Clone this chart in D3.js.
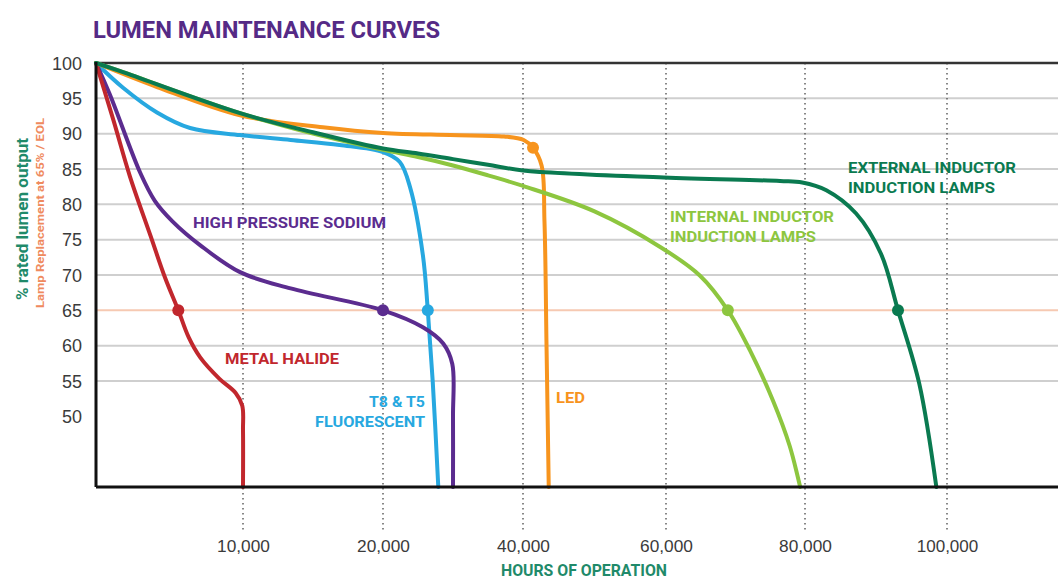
<!DOCTYPE html>
<html>
<head>
<meta charset="utf-8">
<script src="https://cdn.jsdelivr.net/npm/d3@7/dist/d3.min.js"></script>
<style>
  body { margin: 0; background: #fff; }
  svg { display: block; font-family: 'Liberation Sans Narrow', 'Roboto', 'Liberation Sans', sans-serif; font-weight: bold; }
  .y-axis text, .x-axis text { fill: #3b3b3b; font-weight: normal; }
  .y-axis text { font-size: 19px; }
  .x-axis text { font-size: 17px; }
  .curve { fill: none; stroke-width: 4; stroke-linecap: round; stroke-linejoin: round; }
  .series-label { font-size: 15px; }
</style>
</head>
<body>
<svg id="chart"></svg>
<script>
// x axis: hours of operation (tick spacing on the original is not linear)
const hourTicks = [0, 10000, 20000, 40000, 60000, 80000, 100000];
const hourLabels = ['', '10,000', '20,000', '40,000', '60,000', '80,000', '100,000'];
const percentTicks = [100, 95, 90, 85, 80, 75, 70, 65, 60, 55, 50];
const gridTicks = [95, 90, 85, 80, 75, 70, 65, 60, 55];
const replacementLevel = 65;

// [hours, % rated lumen output]
const metalHalide = [[0, 100], [1200, 91.8], [2300, 84], [3700, 75.6], [4700, 69.6], [5600, 65], [6300, 61.2],
  [7100, 58.3], [8400, 55.3], [9500, 53.3], [9950, 51.5], [10000, 48], [10000, 40]];
const highPressureSodium = [[0, 100], [950, 95.5], [3000, 84.5], [4000, 80.5], [5200, 77.6], [7100, 74.2],
  [9800, 70.4], [13400, 68.1], [20000, 65], [25700, 62.6], [28600, 60.3], [29900, 57.4], [30000, 50], [30000, 40]];
const fluorescent = [[0, 100], [1840, 96.5], [4150, 93], [6400, 90.8], [9800, 89.8], [13400, 89.1], [16900, 88.4],
  [20000, 87.4], [22400, 86], [23900, 82.3], [25700, 72.8], [26400, 65], [27100, 55], [27900, 40]];
const led = [[0, 100], [4150, 96.6], [9800, 92.6], [15700, 90.9], [20000, 90.1], [29600, 89.8], [37300, 89.6],
  [40100, 89.1], [41400, 88], [42600, 85.5], [43000, 77.7], [43300, 59.3], [43600, 40]];
const internalInductor = [[0, 100], [1840, 98.7], [9800, 92.9], [15000, 90], [20000, 87.7], [25000, 86.7],
  [30000, 85.5], [35000, 84.1], [40000, 82.6], [50000, 79], [59300, 73.9], [64900, 69.9], [68900, 65],
  [72100, 59.3], [75400, 52.2], [77800, 45.8], [79300, 40]];
const externalInductor = [[0, 100], [1840, 98.7], [9800, 92.9], [15000, 90.2], [20000, 87.9], [25000, 87.2],
  [30000, 86.4], [35000, 85.6], [40000, 84.8], [59700, 83.8], [76400, 83.3], [79600, 83.1], [83000, 82],
  [87200, 78.7], [90700, 73], [93100, 65], [96100, 54.6], [98500, 40]];

// marker points on each curve
const markers = [
  { name: 'fluorescent', point: [26400, 65] },
  { name: 'hps', point: [20000, 65] },
  { name: 'metal', point: [5600, 65] },
  { name: 'led', point: [41400, 88] },
  { name: 'internal', point: [68900, 65] },
  { name: 'external', point: [93100, 65] }
];

const seriesList = [
  { name: 'fluorescent', values: fluorescent },
  { name: 'hps', values: highPressureSodium },
  { name: 'metal', values: metalHalide },
  { name: 'led', values: led },
  { name: 'internal', values: internalInductor },
  { name: 'external', values: externalInductor }
];

class LumenChart {
  constructor(_config) {
    this.config = {
      parentElement: _config.parentElement,
      containerWidth: 1058,
      containerHeight: 579,
      margin: { top: 63, bottom: 92, right: 0, left: 96 },
      tickSteps: [0, 147, 287, 427, 570, 709, 851],
      colors: {
        metal: '#c1272d', hps: '#5b2c8f', fluorescent: '#27a8e0', led: '#f7941d',
        internal: '#8dc63f', external: '#0a7a50'
      }
    };
    this.initVis();
  }

  initVis() {
    let vis = this;
    vis.width = vis.config.containerWidth - vis.config.margin.left - vis.config.margin.right;
    vis.height = vis.config.containerHeight - vis.config.margin.top - vis.config.margin.bottom;

    vis.xScale = d3.scaleLinear()
        .domain(hourTicks)
        .range(vis.config.tickSteps);

    vis.yScale = d3.scaleLinear()
        .domain([40, 100])
        .range([vis.height, 0]);

    vis.svg = d3.select(vis.config.parentElement)
        .attr('width', vis.config.containerWidth)
        .attr('height', vis.config.containerHeight);

    vis.svg.append('rect')
        .attr('width', vis.config.containerWidth)
        .attr('height', vis.config.containerHeight)
        .attr('fill', '#fff');

    vis.svg.append('text')
        .attr('x', 93)
        .attr('y', 38)
        .attr('textLength', 347)
        .attr('lengthAdjust', 'spacingAndGlyphs')
        .style('font-size', '24px')
        .attr('fill', '#552a86')
        .text('LUMEN MAINTENANCE CURVES');

    vis.chart = vis.svg.append('g')
        .attr('transform', `translate(${vis.config.margin.left},${vis.config.margin.top})`);

    // y axis titles
    vis.svg.append('text')
        .attr('transform', 'translate(28,219) rotate(-90)')
        .attr('text-anchor', 'middle')
        .attr('textLength', 162)
        .attr('lengthAdjust', 'spacingAndGlyphs')
        .style('font-size', '17px')
        .attr('fill', '#1f8a6a')
        .text('% rated lumen output');

    vis.svg.append('text')
        .attr('transform', 'translate(44,213) rotate(-90)')
        .attr('text-anchor', 'middle')
        .attr('textLength', 190)
        .attr('lengthAdjust', 'spacingAndGlyphs')
        .style('font-size', '11px')
        .attr('fill', '#ef8a5e')
        .text('Lamp Replacement at 65% / EOL');

    vis.svg.append('text')
        .attr('x', 584)
        .attr('y', 576)
        .attr('text-anchor', 'middle')
        .attr('textLength', 166)
        .attr('lengthAdjust', 'spacingAndGlyphs')
        .style('font-size', '16px')
        .attr('fill', '#1f8a6a')
        .text('HOURS OF OPERATION');

    vis.renderVis();
  }

  renderVis() {
    let vis = this;
    const c = vis.config.colors;

    // horizontal grid
    vis.chart.selectAll('.grid')
        .data(gridTicks)
      .join('line')
        .attr('class', 'grid')
        .attr('x1', 0)
        .attr('x2', vis.width)
        .attr('y1', d => vis.yScale(d))
        .attr('y2', d => vis.yScale(d))
        .attr('stroke', d => d === replacementLevel ? '#f6c9b2' : '#cfcfcf')
        .attr('stroke-width', 2);

    // dotted hour lines
    vis.chart.selectAll('.hour-line')
        .data(hourTicks.slice(1))
      .join('line')
        .attr('class', 'hour-line')
        .attr('x1', d => vis.xScale(d))
        .attr('x2', d => vis.xScale(d))
        .attr('y1', 0)
        .attr('y2', vis.height + 46)
        .attr('stroke', '#555')
        .attr('stroke-width', 1.4)
        .attr('stroke-dasharray', '1.5,3.5');

    // y axis labels
    vis.yAxis = d3.axisLeft(vis.yScale)
        .tickValues(percentTicks)
        .tickSize(0)
        .tickPadding(14);
    vis.yAxisG = vis.chart.append('g')
        .attr('class', 'axis y-axis')
        .call(vis.yAxis);
    vis.yAxisG.select('.domain').remove();
    vis.yAxisG.selectAll('text')
        .attr('textLength', d => String(d).length * 10)
        .attr('lengthAdjust', 'spacingAndGlyphs')
        .attr('fill', d => d === replacementLevel ? '#f08c62' : '#3b3b3b');

    vis.xAxis = d3.axisBottom(vis.xScale)
        .tickValues(hourTicks.slice(1))
        .tickFormat(d => hourLabels[hourTicks.indexOf(d)])
        .tickSize(0)
        .tickPadding(53);
    vis.xAxisG = vis.chart.append('g')
        .attr('class', 'axis x-axis')
        .attr('transform', `translate(0,${vis.height})`)
        .call(vis.xAxis);
    vis.xAxisG.select('.domain').remove();
    vis.xAxisG.selectAll('text')
        .attr('textLength', d => hourLabels[hourTicks.indexOf(d)].length * 8.8)
        .attr('lengthAdjust', 'spacingAndGlyphs');

    // frame
    vis.chart.append('line')
        .attr('x1', 0).attr('x2', vis.width)
        .attr('y1', 0).attr('y2', 0)
        .attr('stroke', '#333').attr('stroke-width', 2.5);

    // curves
    const line = d3.line()
        .x(d => vis.xScale(d[0]))
        .y(d => vis.yScale(d[1]))
        .curve(d3.curveCatmullRom.alpha(0.5));

    vis.chart.selectAll('.curve')
        .data(seriesList)
      .join('path')
        .attr('class', 'curve')
        .attr('stroke', d => c[d.name])
        .attr('d', d => line(d.values));

    vis.chart.selectAll('.marker')
        .data(markers)
      .join('circle')
        .attr('class', 'marker')
        .attr('cx', d => vis.xScale(d.point[0]))
        .attr('cy', d => vis.yScale(d.point[1]))
        .attr('r', 6)
        .attr('fill', d => c[d.name]);

    vis.chart.append('line')
        .attr('x1', 0).attr('x2', 0)
        .attr('y1', -1).attr('y2', vis.height)
        .attr('stroke', '#111').attr('stroke-width', 3);
    vis.chart.append('line')
        .attr('x1', 0).attr('x2', vis.width)
        .attr('y1', vis.height).attr('y2', vis.height)
        .attr('stroke', '#111').attr('stroke-width', 3);

    // series labels
    const labels = [
      { name: 'hps', lines: ['HIGH PRESSURE SODIUM'], x: 193, y: 228, w: [193], anchor: 'start' },
      { name: 'metal', lines: ['METAL HALIDE'], x: 225, y: 364, w: [114], anchor: 'start' },
      { name: 'fluorescent', lines: ['T8 & T5', 'FLUORESCENT'], x: 425, y: 407, w: [56, 110], anchor: 'end' },
      { name: 'led', lines: ['LED'], x: 556, y: 403, w: [29], anchor: 'start' },
      { name: 'internal', lines: ['INTERNAL INDUCTOR', 'INDUCTION LAMPS'], x: 670, y: 222, w: [164, 146], anchor: 'start' },
      { name: 'external', lines: ['EXTERNAL INDUCTOR', 'INDUCTION LAMPS'], x: 848, y: 173, w: [168, 147], anchor: 'start' }
    ];

    labels.forEach(l => {
      l.lines.forEach((t, i) => {
        vis.svg.append('text')
            .attr('class', 'series-label')
            .attr('x', l.x)
            .attr('y', l.y + i * 20)
            .attr('text-anchor', l.anchor)
            .attr('textLength', l.w[i])
            .attr('lengthAdjust', 'spacingAndGlyphs')
            .attr('fill', c[l.name])
            .text(t);
      });
    });
  }
}

new LumenChart({ parentElement: '#chart' });
</script>
</body>
</html>
